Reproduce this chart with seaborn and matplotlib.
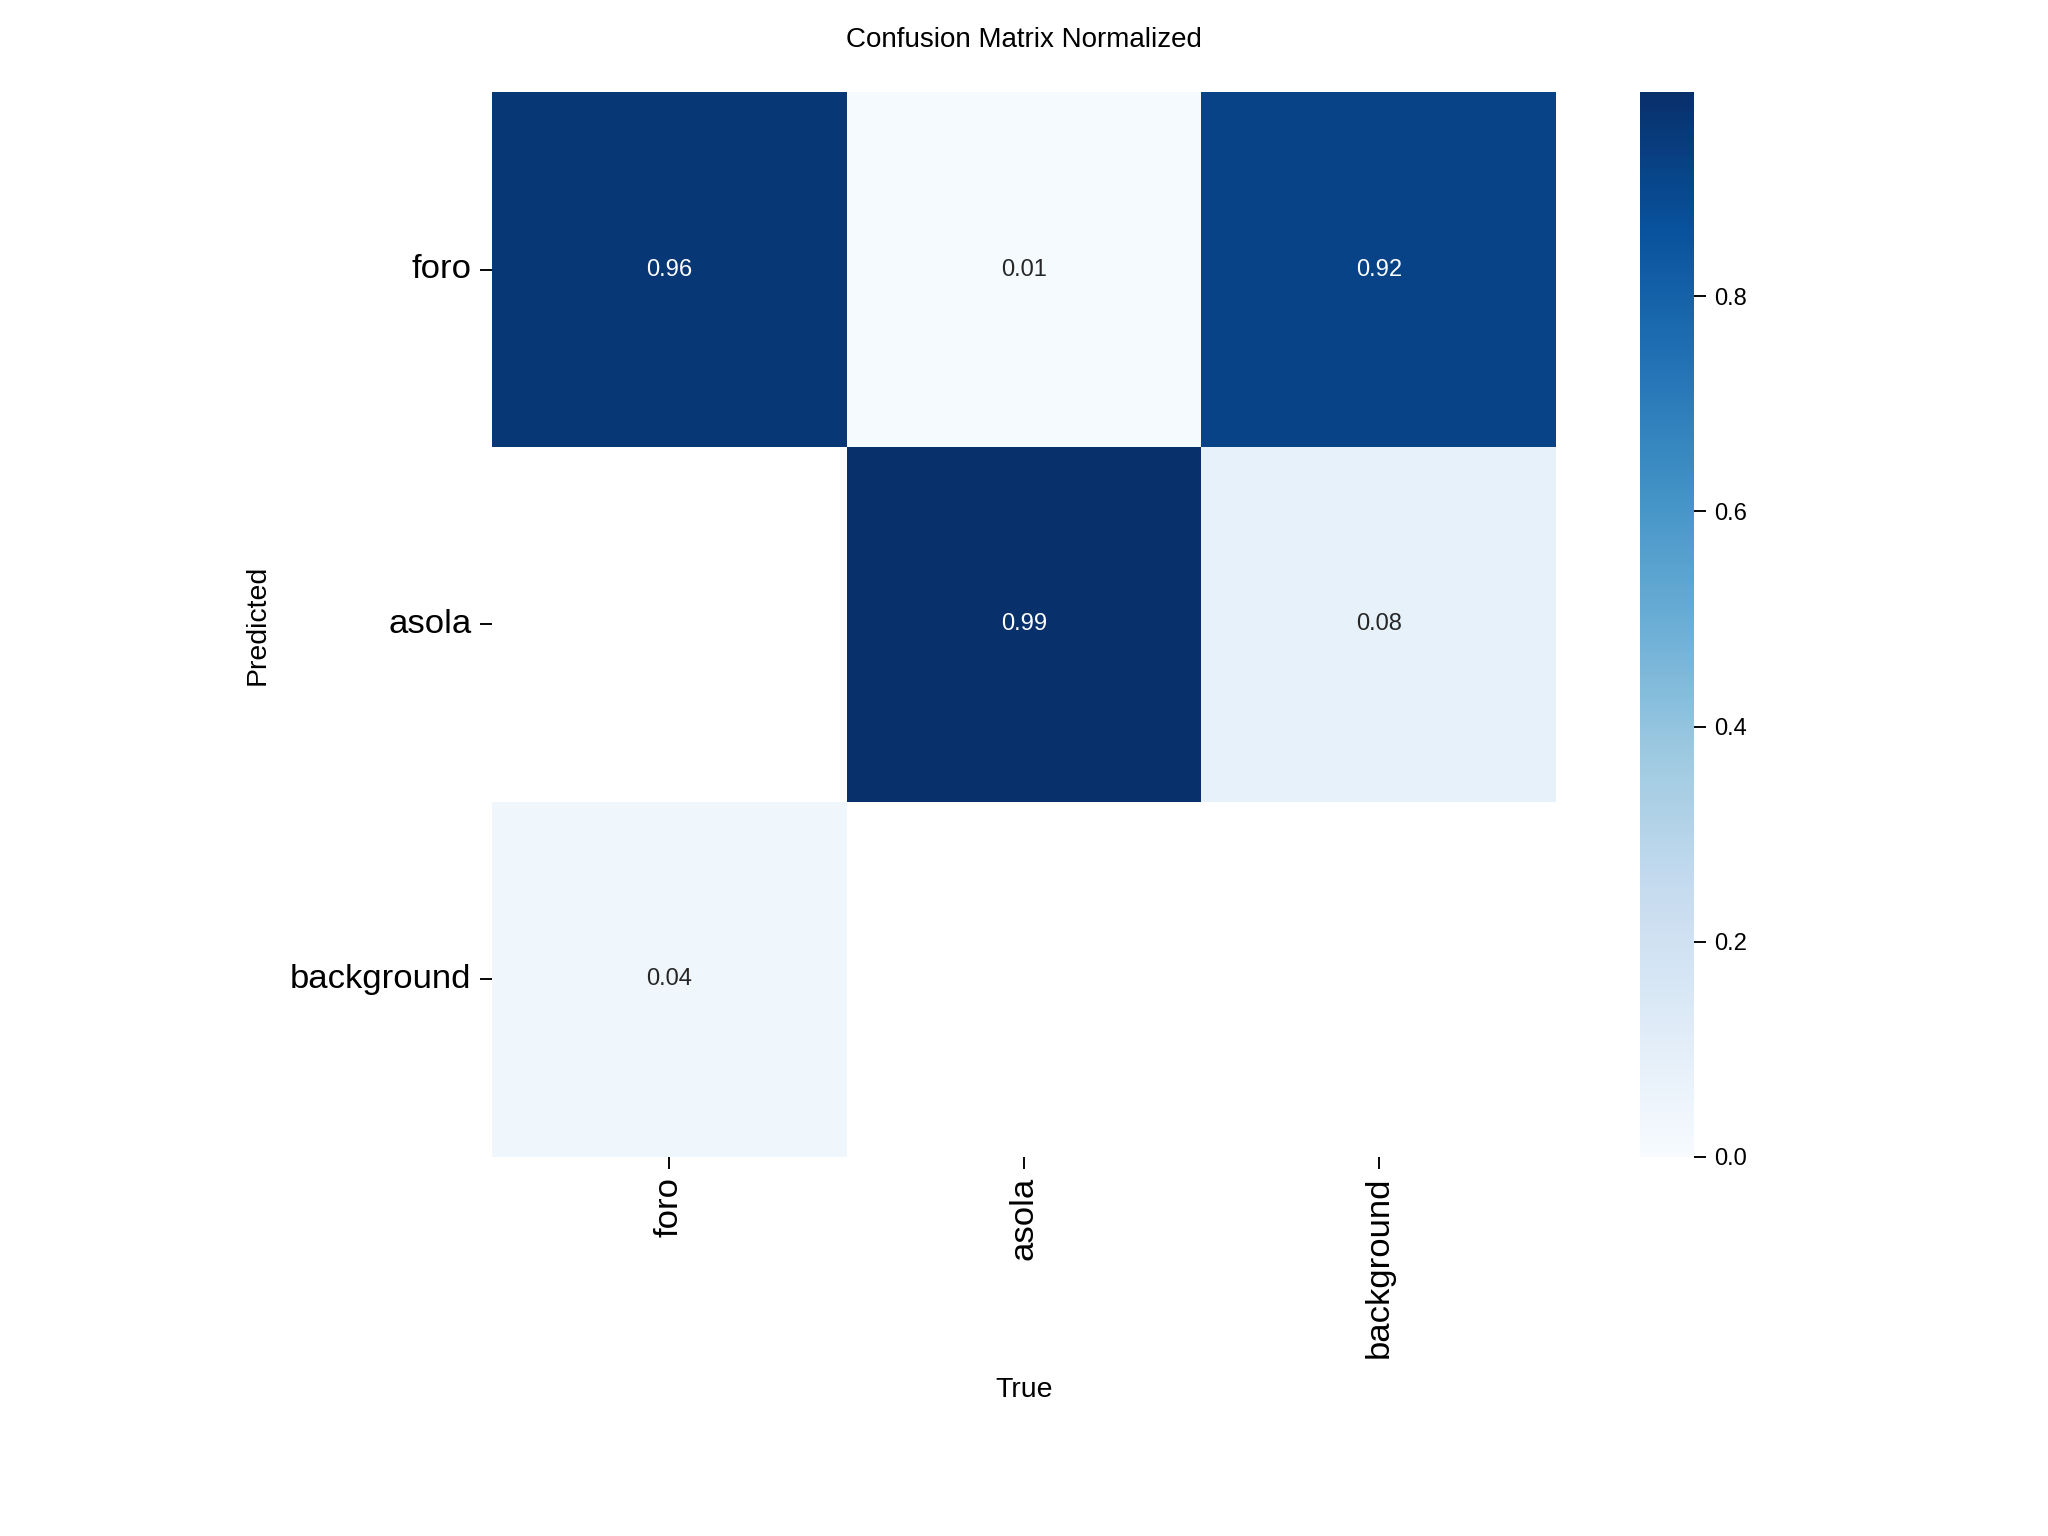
import numpy as np
import pandas as pd
import seaborn as sns
import matplotlib.pyplot as plt

labels = ["foro", "asola", "background"]
row_foro = [0.96, 0.01, 0.92]
row_asola = [np.nan, 0.99, 0.08]
row_background = [0.04, np.nan, np.nan]

df = pd.DataFrame([row_foro, row_asola, row_background], index=labels, columns=labels)

sns.set_theme(style="ticks", font_scale=1.0)
plt.rcParams["font.family"] = ["Liberation Sans", "DejaVu Sans"]
plt.rcParams["text.color"] = "black"
plt.rcParams["axes.labelcolor"] = "black"
plt.rcParams["xtick.color"] = "black"
plt.rcParams["ytick.color"] = "black"

fig = plt.figure(figsize=(12, 9), dpi=2048 / 12)
ax = fig.add_axes([0.240, 0.247, 0.520, 0.693])
cax = fig.add_axes([0.801, 0.247, 0.026, 0.693])
sns.heatmap(df, ax=ax, cbar_ax=cax, annot=True, annot_kws={"size": 10}, cmap="Blues", fmt=".2f",
            vmin=0.0).set_facecolor((1, 1, 1))
ax.set_xticklabels(labels, rotation=90, fontsize=14.6)
ax.set_yticklabels(labels, rotation=0, fontsize=14.6)
ax.tick_params(length=5, width=0.8)
cax.tick_params(labelsize=10, length=5, width=0.8)
ax.set_xlabel("True", fontsize=12, labelpad=8)
ax.set_ylabel("Predicted", fontsize=12, labelpad=8)
ax.set_title("Confusion Matrix Normalized", fontsize=11.7, pad=19)
fig.savefig("out.png", dpi=2048 / 12)
